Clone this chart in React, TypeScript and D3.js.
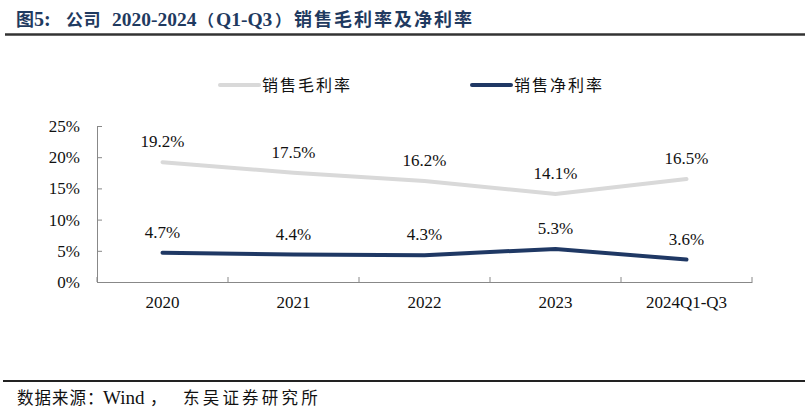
import * as d3 from "d3"
import React, { useEffect, useRef } from "react"

const categories = ["2020", "2021", "2022", "2023", "2024Q1-Q3"]
const grossMargin = [19.2, 17.5, 16.2, 14.1, 16.5]
const netMargin = [4.7, 4.4, 4.3, 5.3, 3.6]
const yTicks = [0, 5, 10, 15, 20, 25]
const seriesNames = ["销售毛利率", "销售净利率"]
const colors = ["#d9d9d9", "#1f3864"]

const W = 805
const H = 413
const margin = { left: 97, right: 53, top: 126, bottom: 131 }

const App = () => {
  const ref = useRef<SVGSVGElement>(null)

  useEffect(() => {
    const svg = d3.select(ref.current)
    svg.selectAll("*").remove()
    const serif = "'Liberation Serif', 'Times New Roman', serif"
    const cjk = "'Noto Sans CJK SC', sans-serif"

    // title, placed piece by piece
    const titleParts: [string, number, string, number, number][] = [
      ["图", 16, cjk, 18, 0],
      ["5:", 34, serif, 20, 0],
      ["公司", 66, cjk, 17, 0.5],
      ["2020-2024", 112, serif, 19.5, 0],
      ["（", 198, cjk, 16, 0],
      ["Q1-Q3", 216, serif, 19.5, 0],
      ["）", 275, cjk, 16, 0],
      ["销售毛利率及净利率", 294, cjk, 18, 2],
    ]
    titleParts.forEach(([t, tx, f, fs, ls]) => {
      svg.append("text").attr("x", tx).attr("y", 26).attr("fill", "#1f3a60")
        .attr("font-weight", "bold").attr("font-size", fs).attr("font-family", f)
        .attr("letter-spacing", ls).text(t)
    })

    svg.append("line").attr("x1", 5).attr("x2", 805).attr("y1", 34.5).attr("y2", 34.5)
      .attr("stroke", "#333").attr("stroke-width", 2.5)
    svg.append("line").attr("x1", 3).attr("x2", 805).attr("y1", 381).attr("y2", 381)
      .attr("stroke", "#222").attr("stroke-width", 2)

    // footer
    const footParts: [string, number, string, number, number][] = [
      ["数据来源：", 17, cjk, 16.5, 1],
      ["Wind", 103, serif, 19, 0],
      ["，", 150, cjk, 16.5, 0],
      ["东吴证券研究所", 183, cjk, 16.5, 3.2],
    ]
    footParts.forEach(([t, tx, f, fs, ls]) => {
      svg.append("text").attr("x", tx).attr("y", 404).attr("fill", "#111")
        .attr("font-size", fs).attr("font-family", f).attr("letter-spacing", ls).text(t)
    })

    const x = d3.scaleBand().domain(categories).range([margin.left, W - margin.right])
    const y = d3.scaleLinear().domain([0, 25]).range([H - margin.bottom, margin.top])

    const g = svg.append("g")

    // y axis
    const yAxis = g.append("g").attr("transform", `translate(${margin.left},0)`)
      .call(d3.axisLeft(y).tickValues(yTicks).tickSize(0).tickPadding(17).tickFormat((d) => `${d}%`))
    yAxis.select(".domain").attr("stroke", "#888")
    yAxis.selectAll("text").attr("font-size", 17).attr("font-family", serif).attr("fill", "#111")
    yAxis.selectAll(".tick").append("line").attr("x1", 0).attr("x2", 5).attr("stroke", "#888")

    // x axis
    const xAxis = g.append("g").attr("transform", `translate(0,${H - margin.bottom})`)
      .call(d3.axisBottom(x).tickSize(0).tickPadding(14))
    xAxis.select(".domain").attr("stroke", "#888")
    xAxis.selectAll("text").attr("font-size", 17).attr("font-family", serif).attr("fill", "#111")
    const step = x.step()
    xAxis.selectAll("line.sep").data(d3.range(categories.length + 1)).enter().append("line")
      .attr("class", "sep")
      .attr("x1", (i) => margin.left + i * step).attr("x2", (i) => margin.left + i * step)
      .attr("y1", 0).attr("y2", -5).attr("stroke", "#888")

    const line = d3.line<number>()
      .x((_, i) => (x(categories[i]) as number) + x.bandwidth() / 2)
      .y((d) => y(d))

    ;[grossMargin, netMargin].forEach((series, si) => {
      g.append("path").datum(series).attr("fill", "none").attr("stroke", colors[si])
        .attr("stroke-width", 4).attr("stroke-linecap", "round").attr("d", line)
      g.selectAll(null).data(series).enter().append("text")
        .attr("x", (_, i) => (x(categories[i]) as number) + x.bandwidth() / 2)
        .attr("y", (d) => y(d) - 15)
        .attr("text-anchor", "middle")
        .attr("font-size", 17).attr("font-family", serif).attr("fill", "#111")
        .text((d) => `${d.toFixed(1)}%`)
    })

    // legend
    const legendX = [220, 472]
    seriesNames.forEach((name, i) => {
      svg.append("line").attr("x1", legendX[i]).attr("x2", legendX[i] + 39)
        .attr("y1", 85).attr("y2", 85).attr("stroke", colors[i]).attr("stroke-width", 4)
        .attr("stroke-linecap", "round")
      svg.append("text").attr("x", legendX[i] + 42).attr("y", 91)
        .attr("font-size", 16).attr("font-family", cjk).attr("fill", "#111")
        .attr("letter-spacing", 2).text(name)
    })
  }, [])

  return (
    <svg ref={ref} width={W} height={H} viewBox={`0 0 ${W} ${H}`}
      style={{ position: "absolute", left: 0, top: 0, background: "#fff" }} />
  )
}

export default App
